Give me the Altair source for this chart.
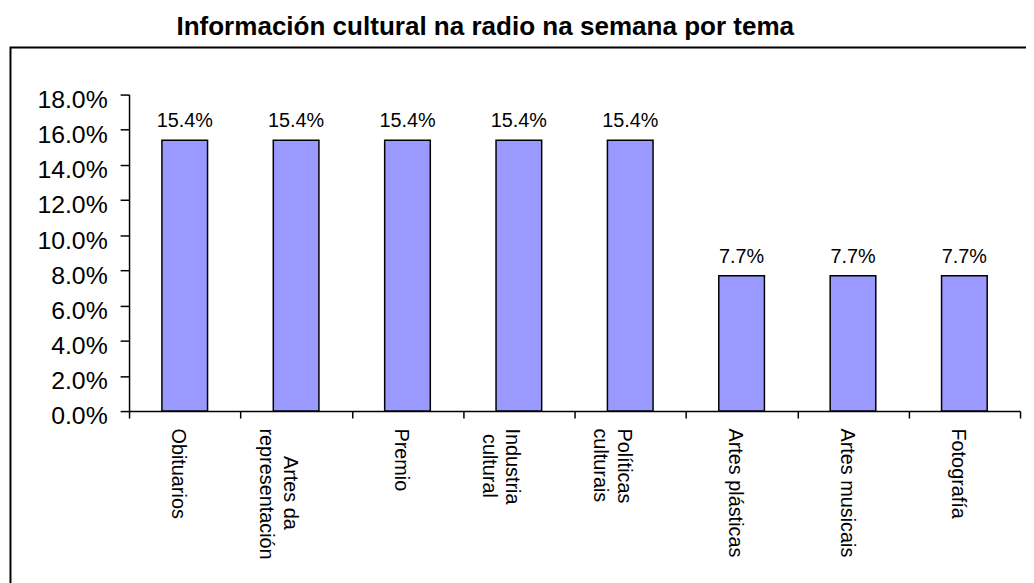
import altair as alt
import pandas as pd

# zero-width lead keeps the no-break spaces that centre the shorter line
PAD = "\u200b"
NB = "\u00a0"
categories = [
    "Obituarios",
    PAD + NB * 5 + "Artes da|representación",
    "Premio",
    "Industria|" + PAD + NB + "cultural",
    "Políticas|culturais",
    "Artes plásticas",
    "Artes musicais",
    "Fotografía",
]
values = [0.154, 0.154, 0.154, 0.154, 0.154, 0.077, 0.077, 0.077]
y_ticks = [0.0, 0.02, 0.04, 0.06, 0.08, 0.10, 0.12, 0.14, 0.16, 0.18]
title_text = "Información cultural na radio na semana por tema"

FONT = "Liberation Sans"
df = pd.DataFrame({"cat": categories, "value": values})

x_enc = alt.X(
    "cat:N",
    sort=categories,
    scale=alt.Scale(paddingInner=0, paddingOuter=0),
    axis=alt.Axis(
        title=None,
        labelAngle=90,
        labelAlign="left",
        labelBaseline="middle",
        labelExpr="split(datum.label, '|')",
        tickBand="extent",
        tickSize=7,
        tickWidth=1.5,
        tickColor="black",
        domainColor="black",
        domainWidth=1.5,
        labelPadding=10,
        labelOffset=-7,
        labelFont=FONT,
        labelFontSize=20,
        labelLineHeight=24,
        labelColor="black",
        labelLimit=300,
        labelOverlap=False,
        labelBound=False,
        grid=False,
    ),
)
y_enc = alt.Y(
    "value:Q",
    scale=alt.Scale(domain=[0, 0.18], nice=False),
    axis=alt.Axis(
        title=None,
        values=y_ticks,
        format=".1%",
        tickSize=9,
        tickWidth=1.5,
        tickColor="black",
        domainColor="black",
        domainWidth=1.5,
        labelPadding=13,
        labelOffset=5,
        labelFont=FONT,
        labelFontSize=25,
        labelColor="black",
        labelOverlap=False,
        labelBound=False,
        grid=False,
    ),
)

base = alt.Chart(df)
bars = base.mark_bar(size=46, fill="#9999FF", stroke="black", strokeWidth=1.5).encode(
    x=x_enc, y=y_enc
)
texts = base.mark_text(
    baseline="alphabetic", dy=-13, font=FONT, fontSize=20, color="black"
).encode(
    x=x_enc,
    y=y_enc,
    text=alt.Text("value:Q", format=".1%"),
)

title = alt.Chart(pd.DataFrame({"t": [title_text]})).mark_text(
    font=FONT, fontSize=26.25, fontWeight="bold", align="center", baseline="alphabetic", color="black"
).encode(text="t:N", x=alt.value(359), y=alt.value(-60))

border = alt.Chart(pd.DataFrame({"d": [0]})).mark_rect(
    fillOpacity=0, stroke="black", strokeWidth=2
).encode(x=alt.value(-119.5), x2=alt.value(930), y=alt.value(-47.5), y2=alt.value(600))

chart = (
    alt.layer(border, bars, texts, title)
    .properties(
        width=898,
        height=319,
        autosize=alt.AutoSizeParams(type="none"),
        padding={"left": 122, "top": 85, "right": 6, "bottom": 171},
        background="white",
    )
    .configure_view(stroke=None)
)

chart.save("out.html", embed_options={"renderer": "svg", "actions": False})
